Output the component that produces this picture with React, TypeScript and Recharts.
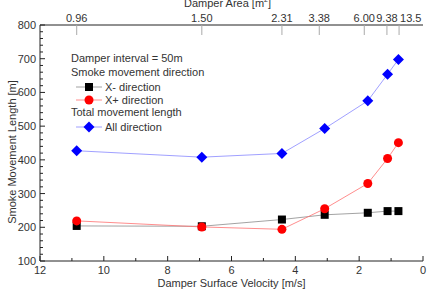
import React from 'react';
import { ComposedChart, Line, XAxis, YAxis } from 'recharts';

// velocities of each damper case [m/s]
const velocity = [10.85, 6.93, 4.42, 3.08, 1.73, 1.11, 0.77];
const xMinus = [204, 203, 223, 237, 243, 248, 248];
const xPlus = [219, 201, 194, 255, 330, 404, 451];
const allDirection = [427, 408, 419, 493, 575, 654, 698];

// top axis: damper area labels and where they sit on the velocity scale
const areaLabels = ['0.96', '1.50', '2.31', '3.38', '6.00', '9.38', '13.5'];
const areaTickPos = [10.85, 6.93, 4.42, 3.25, 1.84, 1.13, 0.75];

const velocityTicks = [0, 1, 2, 3, 4, 5, 6, 7, 8, 9, 10, 11, 12];
const lengthTicks = Array.from({ length: 36 }, (_, i) => 100 + i * 20);

const data = velocity.map((v, i) => ({
  v,
  xMinus: xMinus[i],
  xPlus: xPlus[i],
  all: allDirection[i],
}));

const FONT = 'Arial, "Liberation Sans", sans-serif';
const AXIS = '#222';
const TEXT = '#333';

const LeftTick = (props: any) => {
  const { x, y, payload } = props;
  const major = payload.value % 100 === 0;
  return (
    <g>
      <line x1={x} x2={x + (major ? 5 : 3)} y1={y} y2={y} stroke={AXIS} strokeWidth={1} />
      {major && (
        <text x={x - 4} y={y} dy={4} textAnchor="end" fontSize={11} fill={TEXT} fontFamily={FONT}>
          {payload.value}
        </text>
      )}
    </g>
  );
};

const BottomTick = (props: any) => {
  const { x, y, payload } = props;
  const major = payload.value % 2 === 0;
  return (
    <g>
      <line x1={x} x2={x} y1={y} y2={y - (major ? 5 : 3)} stroke={AXIS} strokeWidth={1} />
      {major && (
        <text x={x} y={y + 13} textAnchor="middle" fontSize={11} fill={TEXT} fontFamily={FONT}>
          {payload.value}
        </text>
      )}
    </g>
  );
};

const TopTick = (props: any) => {
  const { x, y, payload } = props;
  const idx = areaTickPos.indexOf(payload.value);
  // the last two labels crowd together, so the last one is set to the right of its tick
  const last = idx === areaLabels.length - 1;
  return (
    <g>
      <line x1={x} x2={x} y1={y} y2={y + 10} stroke="#aaa" strokeWidth={1} />
      <text
        x={last ? x + 1 : x}
        y={y - 3}
        textAnchor={last ? 'start' : 'middle'}
        fontSize={11}
        fill={TEXT}
        fontFamily={FONT}
      >
        {idx >= 0 ? areaLabels[idx] : ''}
      </text>
    </g>
  );
};

const SquareDot = (p: any) => (
  <rect key={`sq-${p.index}`} x={p.cx - 4} y={p.cy - 4} width={8} height={8} fill="#000" />
);
const CircleDot = (p: any) => (
  <circle key={`ci-${p.index}`} cx={p.cx} cy={p.cy} r={4.5} fill="#ff0000" />
);
const DiamondDot = (p: any) => (
  <polygon
    key={`di-${p.index}`}
    points={`${p.cx},${p.cy - 5.5} ${p.cx + 5.5},${p.cy} ${p.cx},${p.cy + 5.5} ${p.cx - 5.5},${p.cy}`}
    fill="#0000ff"
  />
);

const LegendRow = ({ top, color, shape, label }: { top: number; color: string; shape: string; label: string }) => (
  <div style={{ position: 'absolute', left: 76, top, height: 14, display: 'flex', alignItems: 'center' }}>
    <svg width={26} height={14}>
      <line x1={0} x2={26} y1={7} y2={7} stroke={color} strokeWidth={0.8} />
      {shape === 'square' && <rect x={9} y={3} width={8} height={8} fill="#000" />}
      {shape === 'circle' && <circle cx={13} cy={7} r={4.5} fill="#ff0000" />}
      {shape === 'diamond' && <polygon points="13,1.5 18.5,7 13,12.5 7.5,7" fill="#0000ff" />}
    </svg>
    <span style={{ marginLeft: 3 }}>{label}</span>
  </div>
);

export default function App() {
  return (
    <div style={{ position: 'absolute', left: 0, top: 0, width: 427, height: 290, background: '#fff', fontFamily: FONT, color: TEXT }}>
      <ComposedChart width={427} height={290} data={data} margin={{ top: 0, right: 4, bottom: 0, left: 0 }}>
        <XAxis
          dataKey="v"
          type="number"
          domain={[0, 12]}
          reversed
          allowDataOverflow
          ticks={velocityTicks}
          interval={0}
          height={29}
          tickSize={0}
          tickMargin={0}
          tickLine={false}
          axisLine={{ stroke: AXIS }}
          tick={<BottomTick />}
        />
        <XAxis
          xAxisId="top"
          dataKey="v"
          orientation="top"
          type="number"
          domain={[0, 12]}
          reversed
          allowDataOverflow
          ticks={areaTickPos}
          interval={0}
          height={25}
          tickSize={0}
          tickMargin={0}
          tickLine={false}
          axisLine={{ stroke: AXIS }}
          tick={<TopTick />}
        />
        <YAxis
          type="number"
          domain={[100, 800]}
          allowDataOverflow
          ticks={lengthTicks}
          interval={0}
          width={40}
          tickSize={0}
          tickMargin={0}
          tickLine={false}
          axisLine={{ stroke: AXIS }}
          tick={<LeftTick />}
        />
        <YAxis
          yAxisId="right"
          orientation="right"
          type="number"
          domain={[100, 800]}
          allowDataOverflow
          width={0}
          tick={false}
          tickLine={false}
          axisLine={{ stroke: AXIS }}
        />
        {/* invisible series so the top (area) axis shares the velocity scale */}
        <Line
          xAxisId="top"
          yAxisId="right"
          type="linear"
          dataKey="all"
          stroke="none"
          dot={false}
          activeDot={false}
          legendType="none"
          isAnimationActive={false}
        />
        <Line type="linear" dataKey="xMinus" stroke="#8c8c8c" strokeWidth={0.8} dot={SquareDot} isAnimationActive={false} />
        <Line type="linear" dataKey="xPlus" stroke="#ff7070" strokeWidth={0.8} dot={CircleDot} isAnimationActive={false} />
        <Line type="linear" dataKey="all" stroke="#8888ff" strokeWidth={0.8} dot={DiamondDot} isAnimationActive={false} />
      </ComposedChart>

      <div style={{ position: 'absolute', left: 0, width: 427, top: -4, textAlign: 'center', fontSize: 11, paddingLeft: 28, boxSizing: 'border-box' }}>
        Damper Area [m<sup style={{ fontSize: 7 }}>2</sup>]
      </div>
      <div style={{ position: 'absolute', left: 40, width: 383, top: 277, textAlign: 'center', fontSize: 11 }}>
        Damper Surface Velocity [m/s]
      </div>
      <div
        style={{
          position: 'absolute',
          left: 12,
          top: 152,
          fontSize: 11,
          whiteSpace: 'nowrap',
          transform: 'translate(-50%, -50%) rotate(-90deg)',
        }}
      >
        Smoke Movement Length [m]
      </div>

      <div style={{ fontSize: 11 }}>
        <div style={{ position: 'absolute', left: 71, top: 52 }}>Damper interval = 50m</div>
        <div style={{ position: 'absolute', left: 71, top: 66 }}>Smoke movement direction</div>
        <LegendRow top={80} color="#8c8c8c" shape="square" label="X- direction" />
        <LegendRow top={93} color="#ff7070" shape="circle" label="X+ direction" />
        <div style={{ position: 'absolute', left: 71, top: 106 }}>Total movement length</div>
        <LegendRow top={120} color="#8888ff" shape="diamond" label="All direction" />
      </div>
    </div>
  );
}
